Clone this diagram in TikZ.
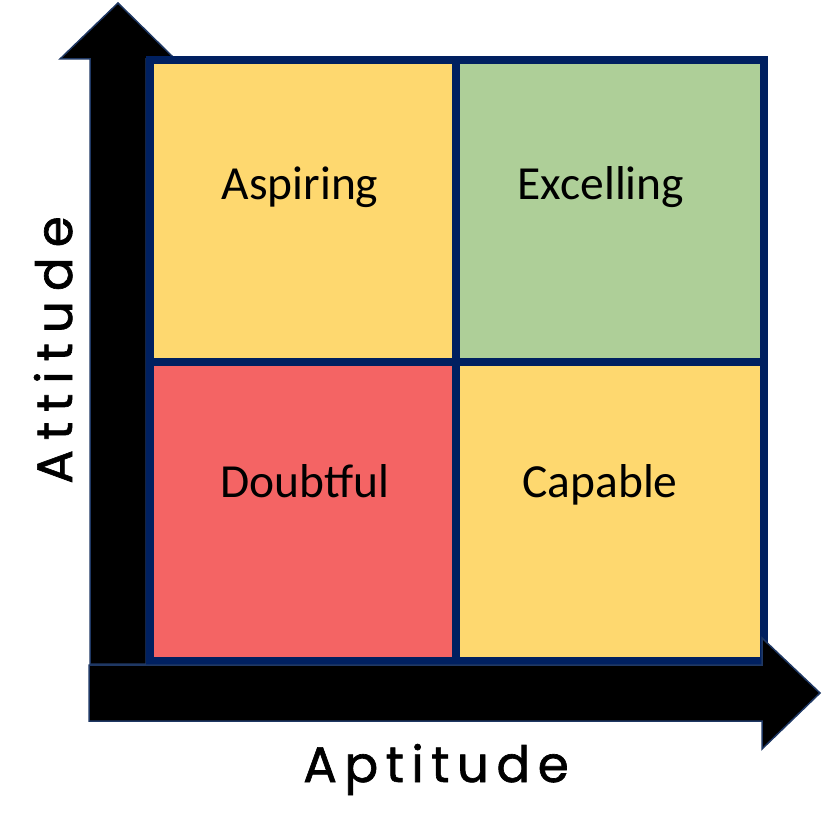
\documentclass[tikz,border=0pt]{standalone}
\usepackage{fontspec}
\setmainfont{Carlito}
\newfontfamily\aptfont{Poppins}[LetterSpace=15,FakeBold=1.3]
\newfontfamily\attfont{Poppins}[LetterSpace=20,FakeBold=1.3]
\definecolor{navy}{HTML}{002060}
\definecolor{arrowline}{HTML}{1F3864}
\definecolor{cyellow}{HTML}{FED86F}
\definecolor{cgreen}{HTML}{AECF98}
\definecolor{cred}{HTML}{F46464}
\begin{document}
\begin{tikzpicture}[x=1pt,y=-1pt,
  cell/.style={draw=navy, line width=8pt},
  axisarrow/.style={fill=black, draw=arrowline, line width=1.5pt, line join=miter},
  celltext/.style={font=\fontsize{47.5}{56}\selectfont, anchor=base, inner sep=0pt},
  axislabel/.style={anchor=base, inner sep=0pt}]
\useasboundingbox (0,0) rectangle (822,824);
% vertical arrow
\draw[axisarrow] (90,664) -- (90,59) -- (60,59) -- (118,3) -- (175,59) -- (146,59) -- (146,664) -- cycle;
% grid cells
\draw[cell, fill=cyellow] (150,60) rectangle (456,362);
\draw[cell, fill=cgreen] (456,60) rectangle (764,362);
\draw[cell, fill=cred] (150,362) rectangle (456,661);
\draw[cell, fill=cyellow] (456,362) rectangle (764,661);
% horizontal arrow
\draw[axisarrow] (89,665) -- (762,665) -- (762,638) -- (820,693) -- (762,749) -- (762,721) -- (89,721) -- cycle;
% texts
\node[celltext] (asp) at (300,199) {Aspiring};
\node[celltext] (exc) at (601,199) {Excelling};
\node[celltext] (dou) at (305,497) {Doubtful};
\node[celltext] (cap) at (600,497) {Capable};
\node[axislabel, font=\aptfont\fontsize{50}{60}\selectfont] (apt) at (436,782) {Aptitude};
\node[axislabel, rotate=90, font=\attfont\fontsize{50}{60}\selectfont] (att) at (72,350) {Attitude};
\end{tikzpicture}
\end{document}
